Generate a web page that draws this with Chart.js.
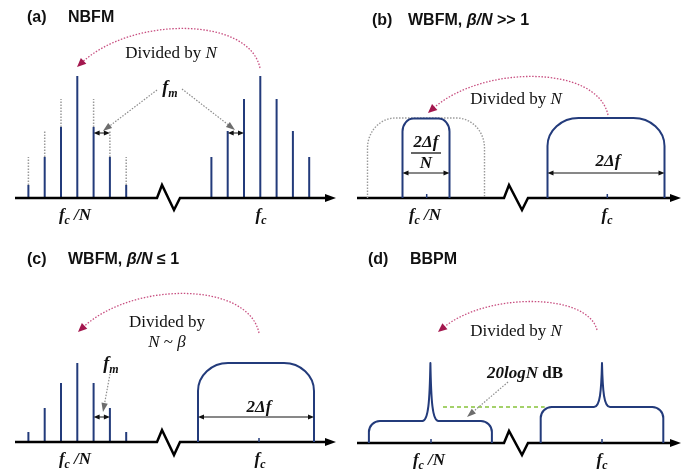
<!DOCTYPE html>
<html><head><meta charset="utf-8">
<script src="https://cdn.jsdelivr.net/npm/chart.js@4/dist/chart.umd.min.js"></script>
<style>
html,body{margin:0;padding:0;background:#fff;}
#wrap{position:relative;width:689px;height:470px;background:#fff;}
.p{position:absolute;width:344px;height:235px;}
.p canvas{display:block;}
</style></head><body>
<div id="wrap">
<div class="p" style="left:0;top:0"><canvas id="ca" width="344" height="235" style="width:344px;height:235px"></canvas></div>
<div class="p" style="left:345px;top:0"><canvas id="cb" width="344" height="235" style="width:344px;height:235px"></canvas></div>
<div class="p" style="left:0;top:235px"><canvas id="cc" width="344" height="235" style="width:344px;height:235px"></canvas></div>
<div class="p" style="left:345px;top:235px"><canvas id="cd" width="344" height="235" style="width:344px;height:235px"></canvas></div>
</div>
<script>
// ---------------- DATA (schematic units) ----------------
const sidebandOrders   = [-3, -2, -1, 0, 1, 2, 3];
// (a) NBFM line spectra: relative amplitudes
const nbfmCarrierLines = [41, 67, 99, 122, 99, 67, 41];   // around fc
const nbfmDividedLines = [13, 41, 71, 122, 71, 41, 13];   // around fc/N
// (c) WBFM, beta/N <= 1
const wbfmDividedLines = [10, 34, 59, 79, 59, 34, 10];    // around fc/N
const wbfmCarrierBand  = [116, 79];                       // [width, level] around fc
// (b) WBFM, beta/N >> 1 : [divided band, carrier band, undivided copy]
const wbfmBandWidths   = [47, 117, 117];
const wbfmBandLevels   = [79.5, 80, 80];
// (d) BBPM : [fc/N, fc]
const bbpmPedestalWidths = [123, 122.6];
const bbpmPedestalLevels = [22, 36];
const bbpmCarrierPeaks   = [80, 80];
// text
const panelTitles = ['(a)', '(b)', '(c)', '(d)'];
const tickLabels  = ['fc /N', 'fc'];
const arcLabel    = 'Divided by';

// ---------------- STYLE ----------------
const SERIF = '"Liberation Serif","Times New Roman",serif';
const SANS  = '"Liberation Sans",Arial,sans-serif';
const NAVY  = '#233b7b';

// ---------------- HELPERS ----------------
function stemData(center, spacing, tops, bases) {
  const d = [];
  sidebandOrders.forEach((o, i) => {
    const b = bases ? bases[i] : 0;
    if (tops[i] <= b) return;
    const x = center + o * spacing;
    d.push({x, y: b}, {x, y: tops[i]}, {x, y: null});
  });
  return d;
}
function lineDs(data, color, width, dash) {
  return {data, showLine: true, borderColor: color, borderWidth: width, borderDash: dash || [],
          pointRadius: 0, borderCapStyle: 'butt', borderJoinStyle: 'miter', spanGaps: false, fill: false};
}
function G(chart) {
  const xs = chart.scales.x, ys = chart.scales.y;
  return {c: chart.ctx, X: v => xs.getPixelForValue(v), Y: v => ys.getPixelForValue(v)};
}
function head(c, tx, ty, ang, len, hw, color) {
  c.save(); c.fillStyle = color; c.setLineDash([]); c.beginPath();
  c.moveTo(tx, ty);
  c.lineTo(tx - len*Math.cos(ang) + hw*Math.sin(ang), ty - len*Math.sin(ang) - hw*Math.cos(ang));
  c.lineTo(tx - len*Math.cos(ang) - hw*Math.sin(ang), ty - len*Math.sin(ang) + hw*Math.cos(ang));
  c.closePath(); c.fill(); c.restore();
}
function axisHead(g) { head(g.c, g.X(336), g.Y(0), 0, 11, 4, '#000'); }
function tick(g, x) {
  const c = g.c; c.save(); c.strokeStyle = NAVY; c.lineWidth = 1.5;
  c.beginPath(); c.moveTo(g.X(x), g.Y(0)); c.lineTo(g.X(x), g.Y(0) - 4); c.stroke(); c.restore();
}
function dim(g, x1, x2, y) {
  const c = g.c, a = g.X(x1), b = g.X(x2), yy = g.Y(y);
  c.save(); c.strokeStyle = '#111'; c.lineWidth = 1; c.setLineDash([]);
  c.beginPath(); c.moveTo(a + 3, yy); c.lineTo(b - 3, yy); c.stroke(); c.restore();
  head(c, a, yy, Math.PI, 6, 2.6, '#111');
  head(c, b, yy, 0, 6, 2.6, '#111');
}
function pointer(g, x1, y1, x2, y2) {
  const c = g.c, ax = g.X(x1), ay = g.Y(y1), bx = g.X(x2), by = g.Y(y2);
  const ang = Math.atan2(by - ay, bx - ax), len = 9;
  c.save(); c.strokeStyle = '#8c8c8c'; c.lineWidth = 1.2; c.setLineDash([1.5, 1.5]);
  c.beginPath(); c.moveTo(ax, ay); c.lineTo(bx - len*Math.cos(ang), by - len*Math.sin(ang)); c.stroke(); c.restore();
  head(c, bx, by, ang, len, 3.2, '#6d6d6d');
}
function divArc(g, s, e, t) {
  const c = g.c;
  const sx = g.X(s[0]), sy = g.Y(s[1]), ex = g.X(e[0]), ey = g.Y(e[1]), ty = g.Y(t[1]);
  const dx = sx - ex;
  const cpy = (ty - 0.125*(sy + ey)) / 0.75;
  const c1x = sx - 0.06*dx, c2x = ex + 0.3*dx;
  const ang = Math.atan2(ey - cpy, ex - c2x), len = 9;
  c.save(); c.strokeStyle = '#c84f80'; c.lineWidth = 1.3; c.setLineDash([1.5, 1.6]);
  c.beginPath(); c.moveTo(sx, sy);
  c.bezierCurveTo(c1x, cpy, c2x, cpy, ex - 0.7*len*Math.cos(ang), ey - 0.7*len*Math.sin(ang)); c.stroke(); c.restore();
  head(c, ex, ey, ang, len, 4, '#a3174e');
}
function rich(g, parts, x, yv, align, color) {
  const c = g.c; c.save(); c.textBaseline = 'alphabetic'; c.fillStyle = color || '#111';
  let w = 0;
  parts.forEach(p => { c.font = p[1]; w += c.measureText(p[0]).width; });
  let px = align === 'left' ? g.X(x) : g.X(x) - w/2;
  const py = g.Y(yv);
  parts.forEach(p => { c.font = p[1]; c.textAlign = 'left'; c.fillText(p[0], px, py + (p[2] || 0)); px += c.measureText(p[0]).width; });
  c.restore();
}
const BI17 = 'italic bold 17px ' + SERIF, BI12 = 'italic bold 12px ' + SERIF;
const R17 = '17px ' + SERIF, I17 = 'italic 17px ' + SERIF;
const TB = 'bold 16px ' + SANS, TBI = 'italic bold 16px ' + SANS;
function fLabel(g, which, x) {
  const s = tickLabels[which];
  const parts = [[s[0], BI17, 0], [s[1], BI12, 4]];
  if (s.length > 2) parts.push([s.slice(2), BI17, 0]);
  rich(g, parts, x, -22, 'center');
}
function fm(g, x, y) { rich(g, [['f', 'italic bold 18px ' + SERIF, 0], ['m', BI12, 4]], x, y, 'center'); }
function dividedText(g, x, y) { rich(g, [[arcLabel + ' ', R17, 0], ['N', I17, 0]], x, y, 'center'); }
function title(g, idx, x1, y, x2, parts) {
  rich(g, [[panelTitles[idx], TB, 0]], x1, y, 'left');
  rich(g, parts, x2, y, 'left');
}
function roundBand(g, center, width, level, rx, ry, color, lw, dash) {
  const c = g.c, x0 = g.X(center - width/2), x1 = g.X(center + width/2), yb = g.Y(0), yt = g.Y(level), k = 0.45;
  c.save(); c.strokeStyle = color; c.lineWidth = lw; c.setLineDash(dash || []);
  c.beginPath(); c.moveTo(x0, yb); c.lineTo(x0, yt + ry);
  c.bezierCurveTo(x0, yt + ry*k, x0 + rx*k, yt, x0 + rx, yt);
  c.lineTo(x1 - rx, yt);
  c.bezierCurveTo(x1 - rx*k, yt, x1, yt + ry*k, x1, yt + ry);
  c.lineTo(x1, yb); c.stroke(); c.restore();
}
function pedestal(g, center, width, level, peak) {
  const c = g.c, x0 = g.X(center - width/2), x1 = g.X(center + width/2), xc = g.X(center);
  const yb = g.Y(0), yp = g.Y(level), yk = g.Y(peak), r = 11, k = 0.45, H = yp - yk;
  c.save(); c.strokeStyle = NAVY; c.lineWidth = 2; c.lineJoin = 'round';
  c.beginPath(); c.moveTo(x0, yb); c.lineTo(x0, yp + r);
  c.bezierCurveTo(x0, yp + r*k, x0 + r*k, yp, x0 + r, yp);
  c.lineTo(xc - 8, yp);
  c.bezierCurveTo(xc - 2, yp, xc - 0.7, yp - H*0.35, xc, yk);
  c.bezierCurveTo(xc + 0.7, yp - H*0.35, xc + 2, yp, xc + 8, yp);
  c.lineTo(x1 - r, yp);
  c.bezierCurveTo(x1 - r*k, yp, x1, yp + r*k, x1, yp + r);
  c.lineTo(x1, yb); c.stroke(); c.restore();
}
function axisData(start, z1, zUp, zDn, z2, end, upX, dnX) {
  return [{x: start, y: 0}, {x: z1, y: 0}, {x: upX, y: zUp}, {x: dnX, y: zDn}, {x: z2, y: 0}, {x: end, y: 0}];
}
function make(id, axisPx, datasets, draw) {
  return new Chart(document.getElementById(id), {
    type: 'scatter',
    data: {datasets},
    options: {
      responsive: false, animation: false, events: [],
      layout: {padding: 0},
      scales: {
        x: {type: 'linear', min: 0, max: 344, display: false},
        y: {type: 'linear', min: axisPx - 235, max: axisPx, display: false}
      },
      plugins: {legend: {display: false}, tooltip: {enabled: false}, title: {display: false}},
      elements: {line: {tension: 0}}
    },
    plugins: [{id: 'schematic', afterDatasetsDraw(chart) { draw(G(chart)); }}]
  });
}

// ---------------- (a) NBFM ----------------
(function () {
  const cL = 77.3, cR = 260.3, sp = 16.3;
  make('ca', 198, [
    lineDs(axisData(15, 157, 13, -12, 180, 327, 162, 174), '#000', 2.5),
    lineDs(stemData(cL, sp, nbfmDividedLines), NAVY, 2),
    lineDs(stemData(cL, sp, nbfmCarrierLines, nbfmDividedLines), '#9a9a9a', 1.5, [1.5, 1.5]),
    lineDs(stemData(cR, sp, nbfmCarrierLines), NAVY, 2)
  ], g => {
    axisHead(g);
    divArc(g, [260, 130], [77, 131], [167, 169]);
    dividedText(g, 171, 140);
    fm(g, 170, 105);
    pointer(g, 157, 108, 103, 67);
    pointer(g, 182, 109, 235, 68);
    dim(g, cL + sp, cL + 2*sp, 65);
    dim(g, cR - 2*sp, cR - sp, 65);
    fLabel(g, 0, 75); fLabel(g, 1, 261);
    title(g, 0, 27, 176, 68, [['NBFM', TB, 0]]);
  });
})();

// ---------------- (b) WBFM beta/N >> 1 ----------------
(function () {
  const cL = 81, cR = 261;
  make('cb', 198, [
    lineDs(axisData(12, 159, 13, -12, 183, 327, 164, 177), '#000', 2.5)
  ], g => {
    axisHead(g);
    roundBand(g, cL, wbfmBandWidths[2], wbfmBandLevels[2], 28, 30, '#9a9a9a', 1.4, [1.5, 1.5]);
    roundBand(g, cL, wbfmBandWidths[0], wbfmBandLevels[0], 11, 13, NAVY, 2);
    roundBand(g, cR, wbfmBandWidths[1], wbfmBandLevels[1], 31, 28, NAVY, 2);
    tick(g, cL + 0.7); tick(g, cR + 1.3);
    rich(g, [['2Δf', BI17, 0]], cL, 51, 'center');
    const c = g.c; c.save(); c.strokeStyle = '#333'; c.lineWidth = 1.5;
    c.beginPath(); c.moveTo(g.X(cL - 15), g.Y(45)); c.lineTo(g.X(cL + 15), g.Y(45)); c.stroke(); c.restore();
    rich(g, [['N', BI17, 0]], cL, 30, 'center');
    dim(g, cL - wbfmBandWidths[0]/2, cL + wbfmBandWidths[0]/2, 25);
    dim(g, cR - wbfmBandWidths[1]/2, cR + wbfmBandWidths[1]/2, 25);
    rich(g, [['2Δf', BI17, 0]], 263, 32, 'center');
    divArc(g, [263, 83], [83, 85], [170, 121]);
    dividedText(g, 171, 94);
    fLabel(g, 0, 80); fLabel(g, 1, 262);
    title(g, 1, 27, 173, 63, [['WBFM, ', TB, 0], ['β/N', TBI, 0], [' >> 1', TB, 0]]);
  });
})();

// ---------------- (c) WBFM beta/N <= 1 ----------------
(function () {
  const cL = 77.3, cR = 256, sp = 16.3;
  make('cc', 207, [
    lineDs(axisData(15, 157, 12, -13, 180, 327, 162, 174), '#000', 2.5),
    lineDs(stemData(cL, sp, wbfmDividedLines), NAVY, 2)
  ], g => {
    axisHead(g);
    roundBand(g, cR, wbfmCarrierBand[0], wbfmCarrierBand[1], 30, 28, NAVY, 2);
    tick(g, 259);
    dim(g, cR - wbfmCarrierBand[0]/2, cR + wbfmCarrierBand[0]/2, 25);
    rich(g, [['2Δf', BI17, 0]], 259, 30, 'center');
    fm(g, 111, 73);
    pointer(g, 110, 68, 103, 30);
    dim(g, cL + sp, cL + 2*sp, 25);
    divArc(g, [259, 109], [78, 110], [163, 148]);
    rich(g, [[arcLabel, R17, 0]], 167, 115, 'center');
    rich(g, [['N', I17, 0], [' ~ ', R17, 0], ['β', I17, 0]], 167, 95, 'center');
    fLabel(g, 0, 75); fLabel(g, 1, 260);
    title(g, 2, 27, 178, 68, [['WBFM, ', TB, 0], ['β/N', TBI, 0], [' ≤ 1', TB, 0]]);
  });
})();

// ---------------- (d) BBPM ----------------
(function () {
  const cL = 85.4, cR = 257;
  make('cd', 208, [
    lineDs(axisData(12, 159, 12, -12, 183, 327, 164, 177), '#000', 2.5),
    lineDs([{x: 98, y: bbpmPedestalLevels[1]}, {x: cR - bbpmPedestalWidths[1]/2 + 4, y: bbpmPedestalLevels[1]}], '#86c23a', 1.3, [4, 3])
  ], g => {
    axisHead(g);
    pedestal(g, cL, bbpmPedestalWidths[0], bbpmPedestalLevels[0], bbpmCarrierPeaks[0]);
    pedestal(g, cR, bbpmPedestalWidths[1], bbpmPedestalLevels[1], bbpmCarrierPeaks[1]);
    tick(g, 86); tick(g, 257);
    rich(g, [['20logN', BI17, 0], [' dB', 'bold 17px ' + SERIF, 0]], 180, 65, 'center');
    pointer(g, 163, 61, 122, 26);
    divArc(g, [252, 113], [93, 111], [170, 141]);
    dividedText(g, 171, 107);
    fLabel(g, 0, 84); fLabel(g, 1, 257);
    title(g, 3, 23, 179, 65, [['BBPM', TB, 0]]);
  });
})();
</script>
</body></html>
